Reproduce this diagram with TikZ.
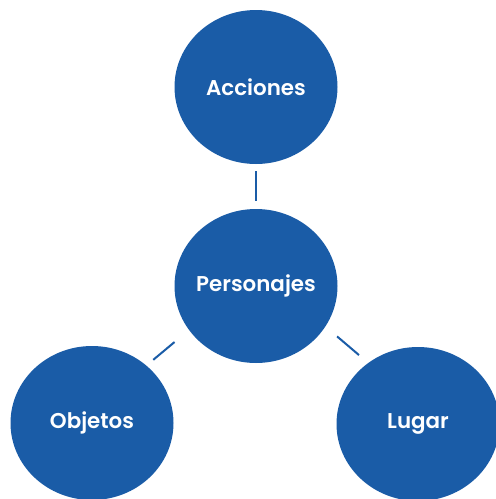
\documentclass[tikz,border=0pt]{standalone}
\usepackage{fontspec}
\setmainfont{Poppins}
\newfontfamily\topicfont{Poppins SemiBold}
\usepackage{xcolor}
\usetikzlibrary{shapes.geometric,calc}

\definecolor{topicblue}{HTML}{1A5CA7}

\begin{document}
\begin{tikzpicture}[x=1pt,y=-1pt,
    topic/.style={ellipse,fill=topicblue,minimum width=163pt,minimum height=154pt,inner sep=-10pt,
        text=white,font=\topicfont\fontsize{21.4}{25}\selectfont},
    link/.style={draw=topicblue,line width=2pt}]
    \useasboundingbox (0,0) rectangle (496,499);

    \node[topic] (acciones) at (256,87) {Acciones};
    \node[topic] (personajes) at (256,286) {Personajes};
    \node[topic] (objetos) at (92,423) {Objetos};
    \node[topic] (lugar) at (418,424) {Lugar};

    \draw[link,shorten <=8pt,shorten >=7pt] (personajes) -- (acciones);
    \draw[link] ($(personajes)!0.46!(objetos)+(-6,-7)$) -- ($(personajes)!0.59!(objetos)+(-6,-7)$);
    \draw[link] ($(personajes)!0.445!(lugar)+(9,-11)$) -- ($(personajes)!0.58!(lugar)+(9,-11)$);
\end{tikzpicture}
\end{document}
